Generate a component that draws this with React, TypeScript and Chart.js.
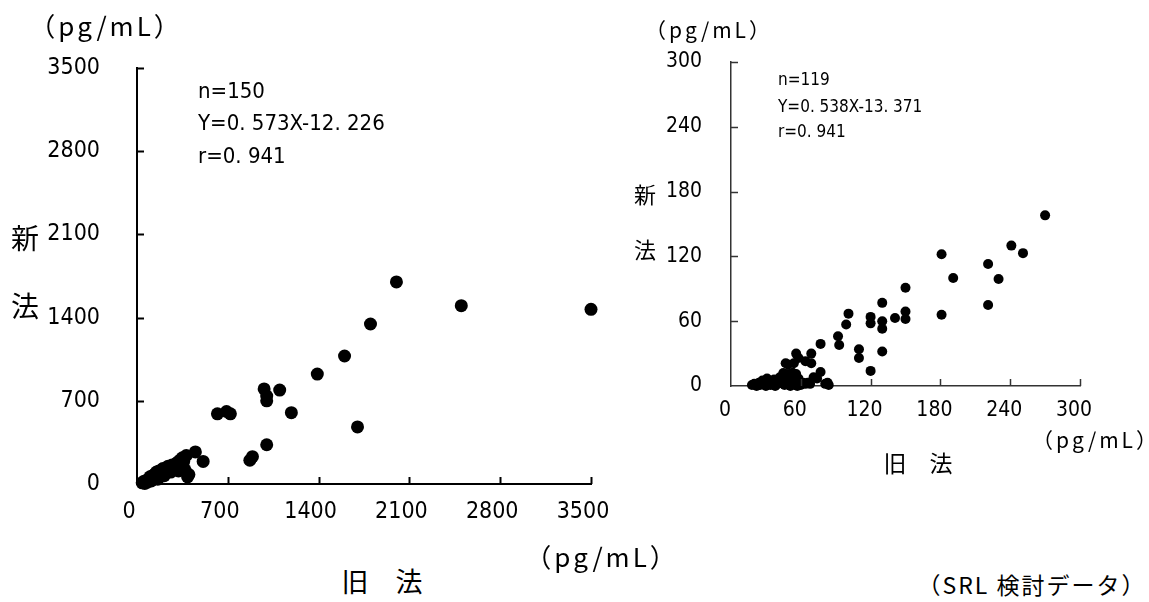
import React, { useEffect, useRef } from 'react';
import { Chart, registerables } from 'chart.js';

Chart.register(...registerables);

// ---- Data (left: all samples, pg/mL) ----
const leftOld = [2000, 2500, 3500, 1800, 1600, 1390, 1100, 980, 1000, 1000, 1190, 1700, 1000, 870, 890, 620, 690, 720, 450, 510,
  40, 50, 60, 70, 80, 90, 100, 110, 120, 130, 140, 150, 160, 170, 180, 190, 200, 210, 220, 240, 250, 260, 270, 290, 300, 310, 320, 330, 340, 350, 360, 380, 400, 390, 370];
const leftNew = [1700, 1500, 1470, 1346, 1077, 925, 790, 800, 740, 700, 600, 480, 330, 200, 230, 590, 610, 590, 270, 190,
  10, 20, 5, 30, 15, 40, 60, 25, 70, 50, 85, 100, 40, 110, 90, 120, 130, 70, 110, 150, 140, 100, 160, 130, 170, 180, 110, 200, 150, 220, 190, 240, 80, 60, 120];

// ---- Data (right: low range, pg/mL) ----
const rightOld = [270, 241, 251, 181, 221, 191, 230, 150, 221, 130, 181, 141, 150, 150, 101, 99, 120, 120, 130, 130, 92, 93, 77, 110, 110, 130, 120,
  69, 56, 58, 47, 54, 69, 64, 77, 71, 81, 83, 74, 49, 45, 53,
  18, 20, 22, 24, 25, 27, 28, 30, 31, 33, 34, 36, 37, 38, 40, 42, 44, 45, 46, 48, 49, 50, 51, 52, 53, 54, 55, 56, 57, 58, 60, 62, 64, 66, 68, 84];
const rightNew = [158, 130, 123, 122, 113, 100, 99, 91, 75, 77, 66, 63, 69, 62, 67, 57, 64, 58, 60, 53, 46, 38, 39, 34, 26, 32, 14,
  30, 30, 26, 21, 21, 21, 23, 13, 8, 2, 3, 7, 20, 12, 12,
  1, 2, 0, 3, 1, 5, 2, 0, 7, 3, 1, 4, 6, 0, 2, 8, 4, 10, 1, 6, 11, 3, 0, 9, 12, 5, 2, 11, 0, 7, 1, 3, 2, 3, 2, 1];

const leftTicks = [0, 700, 1400, 2100, 2800, 3500];
const rightTicks = [0, 60, 120, 180, 240, 300];

const inwardTicks = {
  id: 'inwardTicks',
  afterDraw(chart: any, _args: any, opts: any) {
    const { ctx, chartArea, scales } = chart;
    const xs = scales.x;
    const ys = scales.y;
    ctx.save();
    ctx.strokeStyle = opts.color;
    ctx.lineWidth = opts.width;
    xs.ticks.forEach((t: any) => {
      if (t.value === 0) return;
      const px = Math.round(xs.getPixelForValue(t.value)) + 0.5;
      ctx.beginPath();
      ctx.moveTo(px, chartArea.bottom);
      ctx.lineTo(px, chartArea.bottom - opts.xLen);
      ctx.stroke();
    });
    ys.ticks.forEach((t: any) => {
      if (t.value === 0) return;
      const py = Math.round(ys.getPixelForValue(t.value)) + 0.5;
      ctx.beginPath();
      ctx.moveTo(chartArea.left, py);
      ctx.lineTo(chartArea.left + opts.yLen, py);
      ctx.stroke();
    });
    ctx.restore();
  },
};

type Cfg = {
  xs: number[];
  ys: number[];
  ticks: number[];
  radius: number;
  width: number;
  height: number;
  padding: { left: number; top: number; right: number; bottom: number };
  yWidth: number;
  xHeight: number;
  fontSize: number;
  yPad: number;
  xPad: number;
  xOffset: number;
  axisColor: string;
  axisWidth: number;
  tickLen: number;
};

function Scatter(props: Cfg & { style: React.CSSProperties }) {
  const ref = useRef<HTMLCanvasElement>(null);
  useEffect(() => {
    if (!ref.current) return;
    const p = props;
    const data = p.xs.map((x, i) => ({ x, y: p.ys[i] }));
    const max = p.ticks[p.ticks.length - 1];
    const step = p.ticks[1] - p.ticks[0];
    const font = { family: '"DejaVu Sans Condensed", "DejaVu Sans", sans-serif', size: p.fontSize };
    const fmt = (v: any) => String(v);
    const chart = new Chart(ref.current, {
      type: 'scatter',
      data: {
        datasets: [
          {
            data,
            backgroundColor: '#000',
            borderWidth: 0,
            pointRadius: p.radius,
            pointHoverRadius: p.radius,
            clip: false as any,
          },
        ],
      },
      plugins: [inwardTicks as any],
      options: {
        responsive: false,
        animation: false,
        events: [],
        layout: { padding: p.padding },
        plugins: {
          legend: { display: false },
          tooltip: { enabled: false },
          inwardTicks: { color: p.axisColor, width: p.axisWidth, xLen: p.tickLen, yLen: p.tickLen },
        } as any,
        scales: {
          x: {
            type: 'linear',
            min: 0,
            max,
            afterFit: (s: any) => {
              s.height = p.xHeight;
            },
            ticks: { stepSize: step, color: '#000', font, padding: p.xPad, labelOffset: p.xOffset, maxRotation: 0, callback: fmt },
            grid: { display: true, drawOnChartArea: false, drawTicks: false },
            border: { display: true, color: p.axisColor, width: p.axisWidth },
          },
          y: {
            type: 'linear',
            min: 0,
            max,
            afterFit: (s: any) => {
              s.width = p.yWidth;
            },
            ticks: { stepSize: step, color: '#000', font, padding: p.yPad, callback: fmt },
            grid: { display: true, drawOnChartArea: false, drawTicks: false },
            border: { display: true, color: p.axisColor, width: p.axisWidth },
          },
        },
      },
    });
    return () => chart.destroy();
  }, []);
  return <canvas ref={ref} width={props.width} height={props.height} style={{ position: 'absolute', width: props.width, height: props.height, ...props.style }} />;
}

const CJK = '"Noto Sans CJK JP", "Noto Sans", sans-serif';
const COND = '"DejaVu Sans Condensed", "DejaVu Sans", sans-serif';

function T(props: { x: number; y: number; size: number; text: string; align?: 'center' | 'left'; family?: string; ls?: number }) {
  const { x, y, size, text, align = 'center', family = CJK, ls = 0 } = props;
  return (
    <div
      style={{
        position: 'absolute',
        left: x,
        top: y,
        transform: align === 'center' ? 'translate(-50%, -50%)' : 'translate(0, -50%)',
        fontFamily: family,
        fontSize: size,
        lineHeight: 1,
        letterSpacing: ls,
        whiteSpace: 'pre',
        color: '#000',
      }}
    >
      {text}
    </div>
  );
}

export default function App() {
  return (
    <div style={{ position: 'absolute', left: 0, top: 0, width: 1149, height: 602, background: '#fff', overflow: 'hidden' }}>
      <Scatter
        xs={leftOld}
        ys={leftNew}
        ticks={leftTicks}
        radius={6.5}
        width={640}
        height={540}
        padding={{ left: 0, top: 68, right: 49, bottom: 0 }}
        yWidth={137}
        xHeight={56}
        fontSize={23}
        yPad={37}
        xPad={14}
        xOffset={-8}
        axisColor="#000"
        axisWidth={2}
        tickLen={7}
        style={{ left: 0, top: 0 }}
      />
      <Scatter
        xs={rightOld}
        ys={rightNew}
        ticks={rightTicks}
        radius={5}
        width={529}
        height={480}
        padding={{ left: 0, top: 62, right: 69, bottom: 0 }}
        yWidth={111}
        xHeight={94}
        fontSize={21}
        yPad={29}
        xPad={12}
        xOffset={-6}
        axisColor="#333"
        axisWidth={1.5}
        tickLen={7}
        style={{ left: 620, top: 0 }}
      />

      {/* Left chart texts */}
      <T x={106} y={25} size={26} ls={3} text="（pg/mL）" />
      <T x={25} y={237} size={28} text="新" />
      <T x={25} y={305} size={28} text="法" />
      <T x={602} y={556} size={26} ls={3} text="（pg/mL）" />
      <T x={382} y={580} size={27} text="旧　法" />
      <T x={198} y={91} size={22} text="n=150" align="left" family={COND} />
      <T x={198} y={123} size={22} text="Y=0. 573X-12. 226" align="left" family={COND} />
      <T x={198} y={156} size={22} text="r=0. 941" align="left" family={COND} />

      {/* Right chart texts */}
      <T x={709} y={29} size={21} ls={3} text="（pg/mL）" />
      <T x={1096} y={439} size={21} ls={3} text="（pg/mL）" />
      <T x={645} y={193} size={22} text="新" />
      <T x={645} y={248} size={22} text="法" />
      <T x={918} y={462} size={23} text="旧　法" />
      <T x={778} y={79} size={17} text="n=119" align="left" family={COND} />
      <T x={778} y={106} size={17} text="Y=0. 538X-13. 371" align="left" family={COND} />
      <T x={778} y={131} size={17} text="r=0. 941" align="left" family={COND} />

      <T x={1032} y={584} size={23} ls={2} text="（SRL 検討データ）" />
    </div>
  );
}
